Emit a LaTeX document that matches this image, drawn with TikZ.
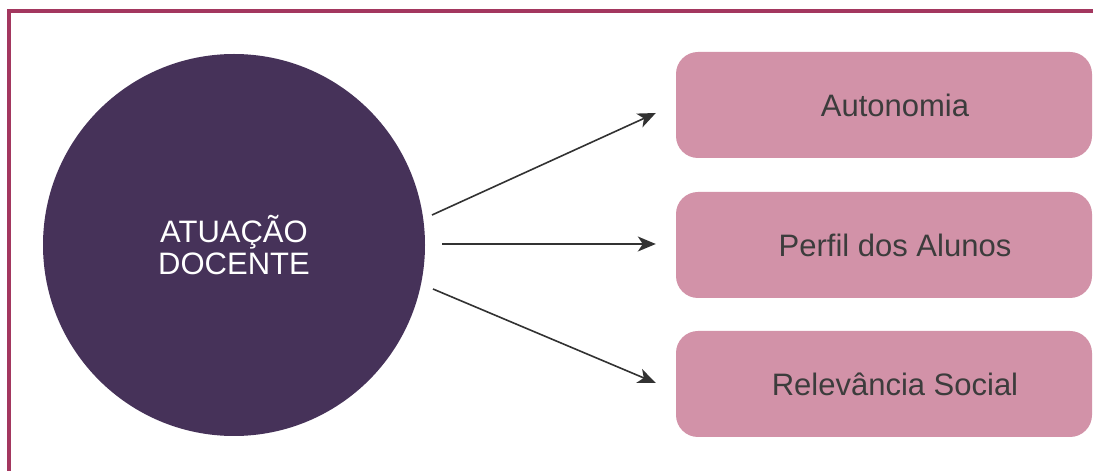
\documentclass[tikz,border=0pt]{standalone}
\usepackage{fontspec}
\setmainfont{Liberation Sans}
\usetikzlibrary{arrows.meta}
\definecolor{frameRed}{RGB}{163,55,95}
\definecolor{docPurple}{RGB}{70,50,89}
\definecolor{boxPink}{RGB}{210,146,168}
\definecolor{textGray}{RGB}{60,60,60}
\definecolor{arrowGray}{RGB}{50,50,50}
\tikzset{
	box/.style={fill=boxPink, rounded corners=22pt, minimum width=416pt, minimum height=106pt, inner sep=0pt},
	boxlabel/.style={text=textGray, font=\fontsize{31}{33}\selectfont},
	arrow/.style={draw=arrowGray, line width=1.6pt, -{Stealth[length=18pt,width=15pt,inset=5pt]}}
}
\begin{document}
\begin{tikzpicture}[x=1pt, y=1pt]
			%%%%% START %%%%%
			
			\useasboundingbox (0, 0) rectangle (1093, 471);
			\clip (0, 0) rectangle (1093, 471);
			\fill[white] (0, 0) rectangle (1093, 471);
			
			\draw[frameRed, line width=3.5pt] (9, -10) -- (9, 460) -- (1110, 460);
			
			\node[circle, fill=docPurple, minimum size=382pt, inner sep=0pt, align=center, text=white, font=\fontsize{31}{32}\selectfont] (doc) at (234, 226) {ATUAÇÃO\\DOCENTE};
			
			\node[box, label={[boxlabel, xshift=11pt]center:Autonomia}] (auto) at (884, 366) {};
			\node[box, label={[boxlabel, xshift=11pt]center:Perfil dos Alunos}] (perfil) at (884, 226) {};
			\node[box, label={[boxlabel, xshift=11pt]center:Relevância Social}] (relev) at (884, 87) {};
			
			\draw[arrow] ([shift={(198, 30)}]doc.center) -- ([shift={(-20, -8)}]auto.west);
			\draw[arrow] ([shift={(208, 1)}]doc.center) -- ([shift={(-20, 1)}]perfil.west);
			\draw[arrow] ([shift={(199, -44)}]doc.center) -- ([shift={(-20, 1)}]relev.west);
			
			%%%%% END %%%%%
		\end{tikzpicture}
\end{document}
